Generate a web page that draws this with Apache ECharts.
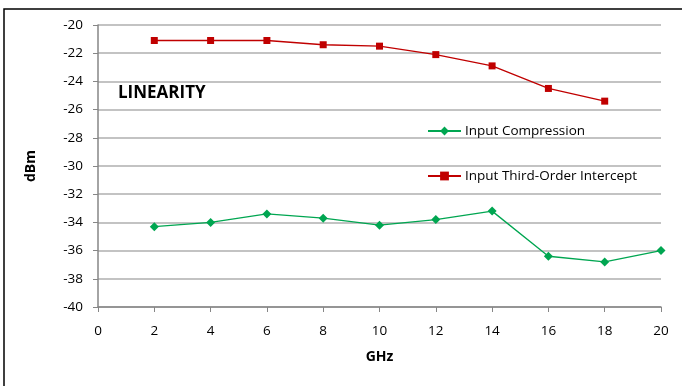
<!DOCTYPE html>
<html>
<head>
<meta charset="utf-8">
<script src="https://cdn.jsdelivr.net/npm/echarts@6/dist/echarts.min.js"></script>
<style>html,body{margin:0;padding:0;background:#fff}#c{width:682px;height:386px}</style>
</head>
<body>
<div id="c"></div>
<script>
var ghz = [2, 4, 6, 8, 10, 12, 14, 16, 18, 20];
var compression = [-34.3, -34.0, -33.4, -33.7, -34.2, -33.8, -33.2, -36.4, -36.8, -36.0];
var ghzIp3 = [2, 4, 6, 8, 10, 12, 14, 16, 18];
var ip3 = [-21.1, -21.1, -21.1, -21.4, -21.5, -22.1, -22.9, -24.5, -25.4];
var seriesNames = ['Input Compression', 'Input Third-Order Intercept'];

var font = 'Open Sans';
var chart = echarts.init(document.getElementById('c'));
chart.setOption({
  animation: false,
  textStyle: {fontFamily: font},
  graphic: [
    {type: 'rect', shape: {x: 4, y: 9, width: 700, height: 400}, style: {fill: 'none', stroke: '#000', lineWidth: 1.5}, silent: true},
    {type: 'text', left: 118, top: 85, style: {text: 'LINEARITY', font: 'bold 17px "' + font + '"', fill: '#000'}}
  ],
  grid: {left: 98, right: 21, top: 25, bottom: 79, containLabel: false},
  legend: {
    orient: 'vertical', left: 427, top: 124, itemGap: 31, padding: 0,
    itemWidth: 33, itemHeight: 11,
    textStyle: {fontFamily: font, fontSize: 13.5, color: '#000', padding: [0, 0, 0, -1]},
    data: seriesNames
  },
  xAxis: {
    type: 'value', min: 0, max: 20, interval: 2,
    name: 'GHz', nameLocation: 'middle', nameGap: 43,
    nameTextStyle: {fontFamily: font, fontWeight: 'bold', fontSize: 14, color: '#000'},
    axisLine: {show: true, lineStyle: {color: '#868686', width: 1.5}},
    axisTick: {show: true, length: 5, inside: false, lineStyle: {color: '#868686'}},
    axisLabel: {fontFamily: font, fontSize: 13.5, color: '#000', margin: 17},
    splitLine: {show: false}
  },
  yAxis: {
    type: 'value', min: -40, max: -20, interval: 2,
    name: 'dBm', nameLocation: 'middle', nameGap: 60, nameRotate: 90,
    nameTextStyle: {fontFamily: font, fontWeight: 'bold', fontSize: 14, color: '#000'},
    axisLine: {show: true, lineStyle: {color: '#868686', width: 1.5}},
    axisTick: {show: true, length: 5, inside: false, lineStyle: {color: '#868686'}},
    axisLabel: {fontFamily: font, fontSize: 13.5, color: '#000', margin: 15},
    splitLine: {show: true, lineStyle: {color: '#AFAFAF', width: 1.5}}
  },
  series: [
    {
      name: seriesNames[0], type: 'line',
      data: ghz.map(function (g, i) { return [g, compression[i]]; }),
      symbol: 'diamond', symbolSize: 9,
      lineStyle: {color: '#00A651', width: 1.3},
      itemStyle: {color: '#00A651'}
    },
    {
      name: seriesNames[1], type: 'line',
      data: ghzIp3.map(function (g, i) { return [g, ip3[i]]; }),
      symbol: 'rect', symbolSize: 7,
      lineStyle: {color: '#C00000', width: 1.3},
      itemStyle: {color: '#C00000'}
    }
  ]
});
</script>
</body>
</html>
